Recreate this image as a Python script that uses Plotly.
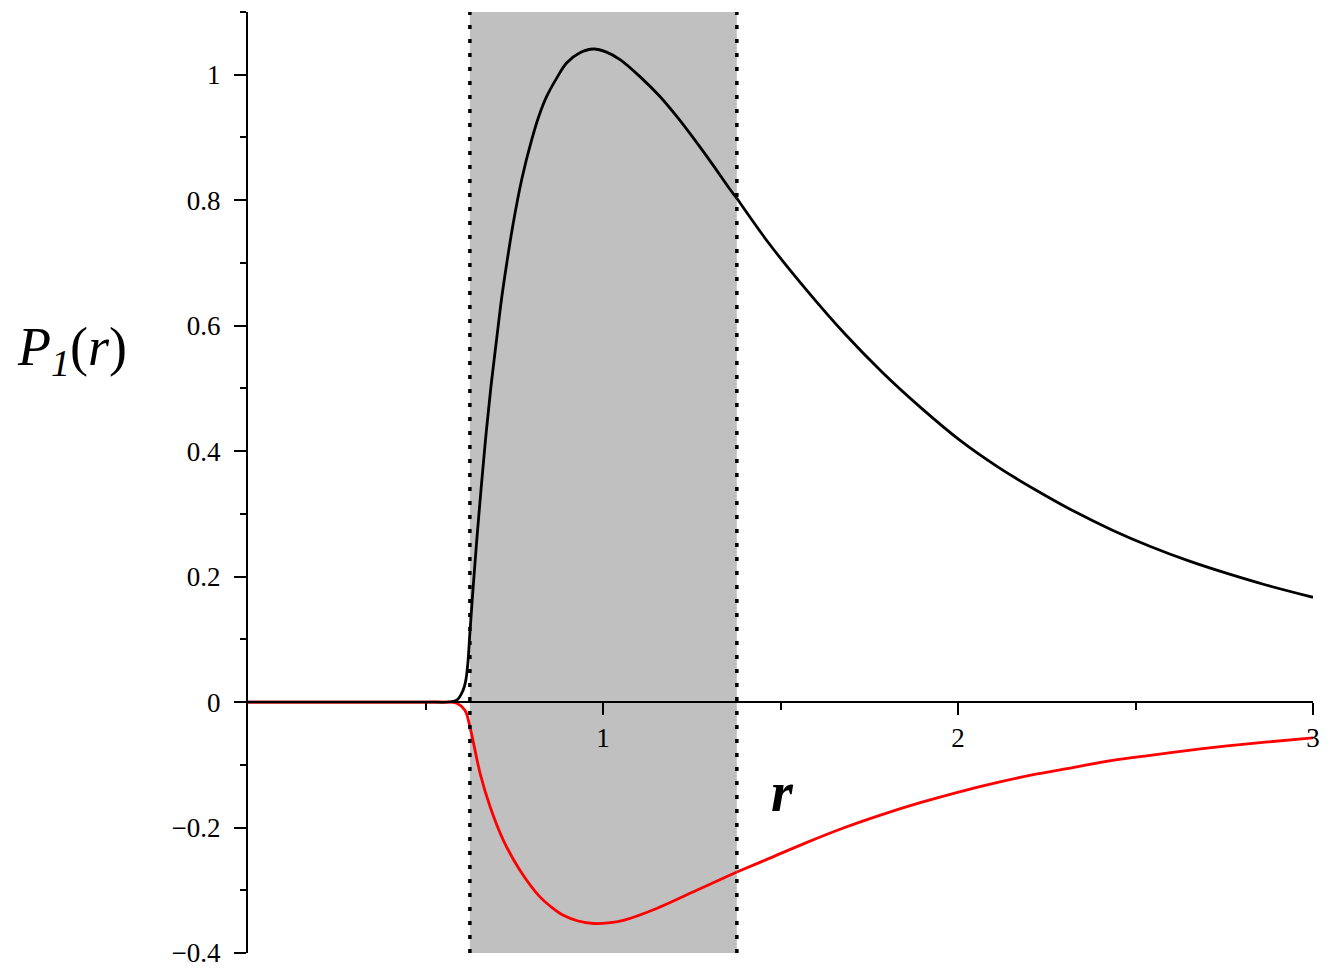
import plotly.graph_objects as go

# ---- data ----
# black curve (inside the shaded band, up to the junction at r = 1.377)
r_black_in = [0.0, 0.3, 0.5, 0.56, 0.588, 0.606, 0.613, 0.619, 0.625, 0.635, 0.646, 0.658,
              0.668, 0.675, 0.686, 0.700, 0.715, 0.729, 0.747, 0.771, 0.799, 0.82, 0.841,
              0.87, 0.898, 0.935, 0.973, 1.01, 1.048, 1.104, 1.161, 1.21, 1.26, 1.31,
              1.358, 1.377]
p_black_in = [0.0, 0.0, 0.0, 0.0, 0.003, 0.019, 0.033, 0.06, 0.110, 0.189, 0.269, 0.349,
              0.412, 0.452, 0.511, 0.577, 0.646, 0.700, 0.763, 0.833, 0.896, 0.935, 0.965,
              0.995, 1.019, 1.035, 1.041, 1.036, 1.024, 0.997, 0.965, 0.932, 0.895, 0.856,
              0.817, 0.803]
# black curve (outside the band)
r_black_out = [1.377, 1.465, 1.573, 1.681, 1.788, 1.896, 2.004, 2.112, 2.219, 2.327,
               2.435, 2.542, 2.65, 2.758, 2.865, 3.0]
p_black_out = [0.803, 0.733, 0.657, 0.587, 0.525, 0.469, 0.418, 0.375, 0.338, 0.304,
               0.274, 0.248, 0.225, 0.205, 0.187, 0.167]

# red curve
r_red_in = [0.0, 0.3, 0.5, 0.56, 0.588, 0.611, 0.625, 0.654, 0.682, 0.719, 0.766, 0.823,
            0.855, 0.888, 0.93, 0.973, 1.015, 1.057, 1.151, 1.264, 1.377]
p_red_in = [0.0, 0.0, 0.0, 0.0, -0.002, -0.013, -0.039, -0.114, -0.167, -0.220, -0.268,
            -0.311, -0.327, -0.340, -0.349, -0.353, -0.352, -0.348, -0.329, -0.300, -0.271]
r_red_out = [1.377, 1.465, 1.573, 1.681, 1.788, 1.896, 2.004, 2.112, 2.219, 2.327,
             2.435, 2.542, 2.65, 2.758, 2.865, 3.0]
p_red_out = [-0.271, -0.250, -0.224, -0.200, -0.179, -0.160, -0.143, -0.128, -0.115,
             -0.104, -0.093, -0.085, -0.077, -0.070, -0.064, -0.057]

shade_r = [0.625, 1.377]          # shaded interval bounds
y_range = [-0.4, 1.1]
x_range = [0.0, 3.0]

y_tickvals = [-0.4, -0.2, 0, 0.2, 0.4, 0.6, 0.8, 1.0]
y_ticktext = ["\u22120.4", "\u22120.2", "0", "0.2", "0.4", "0.6", "0.8", "1"]
y_minor = [-0.3, -0.1, 0.1, 0.3, 0.5, 0.7, 0.9, 1.1]
x_tickvals = [1, 2, 3]
x_ticktext = ["1", "2", "3"]
x_minor = [0.5, 1.5, 2.5]

FONT = "Liberation Serif"

fig = go.Figure()

for xs, ys, col in [(r_black_in, p_black_in, "black"), (r_black_out, p_black_out, "black"),
                    (r_red_in, p_red_in, "#ff0000"), (r_red_out, p_red_out, "#ff0000")]:
    fig.add_trace(go.Scatter(x=xs, y=ys, mode="lines",
                             line=dict(color=col, width=2.8, shape="spline", smoothing=1.0),
                             showlegend=False, hoverinfo="skip"))

fig.add_shape(type="rect", xref="x", yref="y", x0=shade_r[0], x1=shade_r[1],
              y0=y_range[0], y1=y_range[1], fillcolor="#c0c0c0",
              line=dict(width=0), layer="below")
for xv in shade_r:
    fig.add_shape(type="line", xref="x", yref="y", x0=xv, x1=xv,
                  y0=y_range[0], y1=y_range[1],
                  line=dict(color="black", width=3.5, dash="4px,10px"), layer="above")

xpos = (0 - y_range[0]) / (y_range[1] - y_range[0])

fig.update_layout(
    width=1330, height=974,
    margin=dict(l=248, r=17, t=12, b=21),
    plot_bgcolor="white", paper_bgcolor="white",
    font=dict(family=FONT, color="black", size=27),
    xaxis=dict(range=x_range, anchor="free", position=xpos, automargin=False,
               showline=True, linecolor="black", linewidth=2,
               showgrid=False, zeroline=False,
               ticks="outside", ticklen=12, tickwidth=2, tickcolor="black",
               tickvals=x_tickvals, ticktext=x_ticktext,
               minor=dict(tickvals=x_minor, ticks="outside", ticklen=7,
                          tickwidth=2, tickcolor="black", showgrid=False),
               tickfont=dict(family=FONT, size=27)),
    yaxis=dict(range=y_range, automargin=False,
               showline=True, linecolor="black", linewidth=2,
               showgrid=False, zeroline=False,
               ticks="outside", ticklen=12, tickwidth=2, tickcolor="black",
               tickvals=y_tickvals, ticktext=y_ticktext, ticklabelstandoff=8,
               minor=dict(tickvals=y_minor, ticks="outside", ticklen=6,
                          tickwidth=2, tickcolor="black", showgrid=False),
               tickfont=dict(family=FONT, size=27)),
)

fig.add_annotation(text="<i><b>r</b></i>", xref="paper", yref="paper",
                   x=(782 - 248) / 1065, y=(953 - 792) / 941,
                   xanchor="center", yanchor="middle",
                   showarrow=False, font=dict(family=FONT, size=56, color="black"))
fig.add_annotation(text="<i>P</i><sub><i>1</i></sub>(<i>r</i>)", xref="paper", yref="paper",
                   x=(72 - 248) / 1065, y=(953 - 350) / 941,
                   xanchor="center", yanchor="middle",
                   showarrow=False, font=dict(family=FONT, size=54, color="black"))

fig.write_html("out.html", config={"displayModeBar": False},
               post_script="document.body.style.margin='0';")
